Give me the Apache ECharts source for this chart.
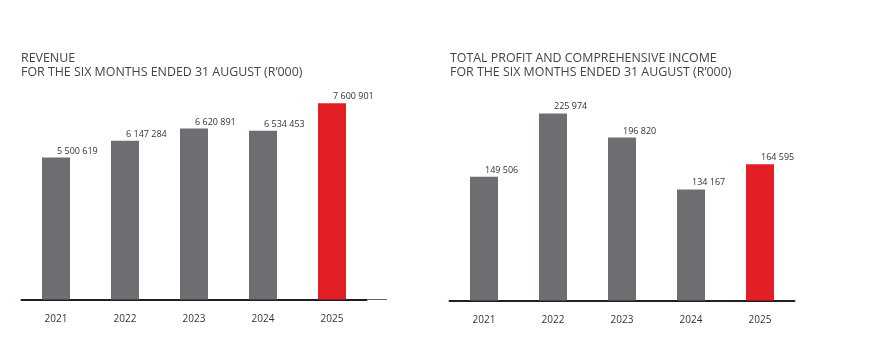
<!DOCTYPE html>
<html>
<head>
<meta charset="utf-8">
<style>
  html, body { margin: 0; padding: 0; background: #fff; }
  #chart { width: 879px; height: 354px; }
</style>
<script src="https://cdn.jsdelivr.net/npm/echarts@6/dist/echarts.min.js"></script>
</head>
<body>
<div id="chart"></div>
<script>
const years = ["2021", "2022", "2023", "2024", "2025"];
const revenue = [5500619, 6147284, 6620891, 6534453, 7600901];
const profit = [149506, 225974, 196820, 134167, 164595];

const revenueTitle = "REVENUE\nFOR THE SIX MONTHS ENDED 31 AUGUST (R\u2019000)";
const profitTitle = "TOTAL PROFIT AND COMPREHENSIVE INCOME\nFOR THE SIX MONTHS ENDED 31 AUGUST (R\u2019000)";

const GREY = "#6d6e71";
const RED = "#e31e25";
const FONT = "Open Sans";

const fmt = (v) => String(v).replace(/\B(?=(\d{3})+(?!\d))/g, " ");

const colorFor = (arr) =>
  arr.map((v, i) => ({
    value: v,
    itemStyle: { color: i === arr.length - 1 ? RED : GREY },
  }));

const xAxisFor = (gridIndex) => ({
  type: "category",
  gridIndex,
  data: years,
  axisLine: { lineStyle: { color: "#231f20", width: 2 } },
  axisTick: { show: false },
  axisLabel: {
    color: "#333",
    fontSize: 10,
    fontFamily: FONT,
    margin: 15,
  },
});

const yAxisFor = (gridIndex, max) => ({
  type: "value",
  gridIndex,
  min: 0,
  max,
  show: false,
  splitLine: { show: false },
});

const labelFor = (dist, dx) => ({
  show: true,
  position: "top",
  align: "left",
  distance: dist,
  offset: [dx, 0],
  color: "#333",
  fontSize: 9,
  fontFamily: FONT,
  formatter: (p) => fmt(p.value),
});

const titleStyle = { color: "#444", fontSize: 12.4, fontWeight: 400, fontFamily: FONT, lineHeight: 14 };

const chart = echarts.init(document.getElementById("chart"), null, { renderer: "canvas" });

chart.setOption({
  animation: false,
  backgroundColor: "#fff",
  title: [
    { text: revenueTitle, left: 21, top: 51, padding: 0, textStyle: titleStyle },
    { text: profitTitle, left: 450, top: 51, padding: 0, textStyle: titleStyle },
  ],
  grid: [
    { left: 21.5, width: 345, top: 93, bottom: 54.5 },
    { left: 449.5, width: 345, top: 93.5, bottom: 53.5 },
  ],
  xAxis: [xAxisFor(0), xAxisFor(1)],
  yAxis: [yAxisFor(0, 8000000), yAxisFor(1, 250000)],
  graphic: [
    {
      type: "line",
      shape: { x1: 366, y1: 299.5, x2: 387, y2: 299.5 },
      style: { stroke: "#666", lineWidth: 1 },
      silent: true,
    },
  ],
  series: [
    {
      type: "bar",
      xAxisIndex: 0,
      yAxisIndex: 0,
      barWidth: 28,
      data: colorFor(revenue),
      label: labelFor(2, 1),
    },
    {
      type: "bar",
      xAxisIndex: 1,
      yAxisIndex: 1,
      barWidth: 28,
      data: colorFor(profit),
      label: labelFor(2, 1),
    },
  ],
});
</script>
</body>
</html>
